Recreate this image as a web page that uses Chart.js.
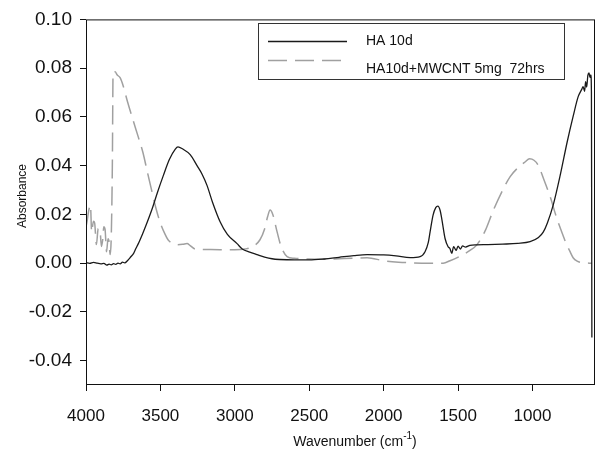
<!DOCTYPE html>
<html>
<head>
<meta charset="utf-8">
<script src="https://cdn.jsdelivr.net/npm/chart.js@4/dist/chart.umd.min.js"></script>
<style>
    body { margin: 0; background: #fff; }
    #wrap { width: 597px; height: 450px; }
</style>
</head>
<body>
<div id="wrap"><canvas id="chart" width="597" height="450"></canvas></div>
<script>
// 图例标签
const seriesLabels = ['HA 10d', 'HA10d+MWCNT 5mg  72hrs'];

// HA 10d（实线）
const haWave = [4000, 3975, 3950, 3925, 3900, 3880, 3860, 3845, 3830, 3815, 3800, 3785, 3770, 3755, 3740, 3720, 3700, 3680, 3665, 3650,
    3620, 3600, 3556, 3520, 3480, 3440, 3400, 3382, 3350, 3300, 3254, 3220, 3187, 3150, 3099, 3050, 2985, 2950, 2900, 2851,
    2800, 2750, 2700, 2600, 2500, 2400, 2300, 2200, 2111, 2000, 1917, 1822, 1755, 1722, 1700, 1688, 1668, 1650, 1636, 1620,
    1609, 1587, 1567, 1555, 1542, 1530, 1513, 1500, 1485, 1470, 1450, 1420, 1374, 1300, 1200, 1100, 1016, 960, 928, 900,
    861, 814, 767, 727, 693, 670, 660, 650, 643, 636, 628, 620, 614, 608, 604, 601];
const haAbs = [0.0002, -0.0001, 0.0003, 0.0000, -0.0003, -0.0001, -0.0008, -0.0004, -0.0007, -0.0002, -0.0005, 0.0000, -0.0003, 0.0004, 0.0001, 0.0011, 0.0025, 0.0040, 0.0060, 0.0078,
    0.0120, 0.0150, 0.0222, 0.0290, 0.0360, 0.0425, 0.0468, 0.0477, 0.0468, 0.0445, 0.0400, 0.0365, 0.0319, 0.0250, 0.0170, 0.0118, 0.0080, 0.0058, 0.0045, 0.0035,
    0.0025, 0.0018, 0.0015, 0.0013, 0.0013, 0.0017, 0.0024, 0.0031, 0.0035, 0.0034, 0.0030, 0.0023, 0.0027, 0.0047, 0.0085, 0.0128, 0.0197, 0.0228, 0.0234, 0.0215,
    0.0180, 0.0100, 0.0067, 0.0060, 0.0040, 0.0068, 0.0052, 0.0070, 0.0058, 0.0071, 0.0066, 0.0073, 0.0075, 0.0076, 0.0078, 0.0081, 0.0088, 0.0105, 0.0127, 0.0165,
    0.0238, 0.0360, 0.0497, 0.0602, 0.0683, 0.0712, 0.0724, 0.0705, 0.0745, 0.0722, 0.0770, 0.0780, 0.0762, 0.0772, 0.0700, -0.0305];

// HA10d+MWCNT（虚线）
const cntWave = [4000, 3993, 3982, 3970, 3962, 3950, 3942, 3930, 3918, 3906, 3896, 3888, 3880, 3872, 3862, 3852, 3845, 3838, 3830, 3823,
    3818, 3805, 3790, 3770, 3751, 3720, 3684, 3650, 3617, 3590, 3556, 3530, 3503, 3470, 3449, 3420, 3388, 3350, 3321, 3300,
    3267, 3200, 3100, 3000, 2930, 2880, 2831, 2800, 2780, 2763, 2745, 2716, 2690, 2649, 2600, 2500, 2400, 2300, 2200, 2111,
    2000, 1900, 1800, 1688, 1600, 1554, 1466, 1420, 1374, 1320, 1265, 1200, 1150, 1100, 1050, 1020, 990, 960, 928, 880,
    840, 814, 780, 750, 727, 700, 660, 620, 600];
const cntAbs = [0.0150, 0.0170, 0.0215, 0.0238, 0.0128, 0.0172, 0.0165, 0.0076, 0.0142, 0.0135, 0.0068, 0.0095, 0.0149, 0.0140, 0.0047, 0.0100, 0.0088, 0.0035, 0.0116, 0.0400,
    0.0785, 0.0785, 0.0772, 0.0760, 0.0729, 0.0660, 0.0587, 0.0520, 0.0453, 0.0380, 0.0291, 0.0225, 0.0169, 0.0120, 0.0096, 0.0082, 0.0075, 0.0077, 0.0081, 0.0072,
    0.0058, 0.0056, 0.0055, 0.0055, 0.0058, 0.0068, 0.0096, 0.0140, 0.0190, 0.0218, 0.0200, 0.0128, 0.0070, 0.0027, 0.0020, 0.0017, 0.0016, 0.0018, 0.0020, 0.0022,
    0.0010, 0.0004, 0.0001, 0.0000, 0.0000, 0.0010, 0.0035, 0.0052, 0.0075, 0.0130, 0.0214, 0.0300, 0.0355, 0.0390, 0.0415, 0.0428, 0.0422, 0.0400, 0.0350, 0.0270,
    0.0190, 0.0145, 0.0090, 0.0050, 0.0022, 0.0008, 0.0002, 0.0000, 0.0000];

// 坐标轴刻度
const xTicks = [4000, 3500, 3000, 2500, 2000, 1500, 1000];
const yTicks = [0.10, 0.08, 0.06, 0.04, 0.02, 0.00, -0.02, -0.04];
const xRange = [580, 4000];
const yRange = [-0.05, 0.10];

const FONT = "'Liberation Sans', Arial, sans-serif";

function toPoints(xs, ys) {
    return xs.map((x, i) => ({ x: x, y: ys[i] }));
}

// 画外框
const framePlugin = {
    id: 'frame',
    afterDraw(chart) {
        const a = chart.chartArea;
        const ctx = chart.ctx;
        ctx.save();
        ctx.strokeStyle = '#111';
        ctx.lineWidth = 1;
        ctx.strokeRect(a.left + 0.5, a.top + 0.5, a.right - a.left - 1, a.bottom - a.top - 1);
        ctx.restore();
    }
};

// 图例框
const legendPlugin = {
    id: 'boxLegend',
    afterDraw(chart) {
        const ctx = chart.ctx;
        ctx.save();
        ctx.strokeStyle = '#333';
        ctx.lineWidth = 1;
        ctx.strokeRect(258.5, 23.5, 306, 56);
        const rows = [41.5, 60.5];
        const textY = [41.5, 69];
        chart.data.datasets.forEach((ds, i) => {
            ctx.beginPath();
            ctx.strokeStyle = ds.borderColor;
            ctx.lineWidth = ds.borderWidth;
            ctx.setLineDash(ds.borderDash || []);
            ctx.moveTo(268, rows[i]);
            ctx.lineTo(347, rows[i]);
            ctx.stroke();
            ctx.setLineDash([]);
            ctx.fillStyle = '#111';
            ctx.font = '14px ' + FONT;
            ctx.textBaseline = 'middle';
            ctx.textAlign = 'left';
            ctx.fillText(ds.label, 366, textY[i]);
        });
        ctx.restore();
    }
};

// 坐标轴标题
const titlePlugin = {
    id: 'axisTitles',
    afterDraw(chart) {
        const ctx = chart.ctx;
        ctx.save();
        ctx.fillStyle = '#111';
        ctx.textBaseline = 'alphabetic';

        ctx.font = '12px ' + FONT;
        ctx.translate(26, 196);
        ctx.rotate(-Math.PI / 2);
        ctx.textAlign = 'center';
        ctx.fillText('Absorbance', 0, 0);
        ctx.setTransform(1, 0, 0, 1, 0, 0);

        const main = 'Wavenumber (cm';
        const sup = '-1';
        const tail = ')';
        ctx.font = '14px ' + FONT;
        const w1 = ctx.measureText(main).width;
        const w3 = ctx.measureText(tail).width;
        ctx.font = '10px ' + FONT;
        const w2 = ctx.measureText(sup).width;
        let x = 355 - (w1 + w2 + w3) / 2;
        const base = 446;
        ctx.textAlign = 'left';
        ctx.font = '14px ' + FONT;
        ctx.fillText(main, x, base);
        x += w1;
        ctx.font = '10px ' + FONT;
        ctx.fillText(sup, x, base - 7);
        x += w2;
        ctx.font = '14px ' + FONT;
        ctx.fillText(tail, x, base);
        ctx.restore();
    }
};

new Chart(document.getElementById('chart'), {
    type: 'line',
    data: {
        datasets: [{
            label: seriesLabels[0],
            data: toPoints(haWave, haAbs),
            borderColor: '#1a1a1a',
            borderWidth: 1.3,
            pointRadius: 0,
            cubicInterpolationMode: 'monotone',
            fill: false
        }, {
            label: seriesLabels[1],
            data: toPoints(cntWave, cntAbs),
            borderColor: '#a0a0a0',
            borderWidth: 1.5,
            borderDash: [19, 8],
            pointRadius: 0,
            cubicInterpolationMode: 'monotone',
            fill: false
        }]
    },
    options: {
        responsive: false,
        animation: false,
        events: [],
        layout: { padding: { left: 0, right: 2, top: 15, bottom: 0 } },
        plugins: {
            legend: { display: false },
            tooltip: { enabled: false }
        },
        scales: {
            x: {
                type: 'linear',
                reverse: true,
                min: xRange[0],
                max: xRange[1],
                afterFit(s) { s.height = 65; },
                afterBuildTicks(s) { s.ticks = xTicks.map(v => ({ value: v })); },
                border: { display: false },
                grid: { drawOnChartArea: false, drawTicks: true, tickLength: 6, tickColor: '#111' },
                ticks: {
                    padding: 15,
                    color: '#111',
                    font: { family: FONT, size: 17 },
                    maxRotation: 0,
                    callback: v => String(v)
                }
            },
            y: {
                type: 'linear',
                min: yRange[0],
                max: yRange[1],
                afterFit(s) { s.width = 86; },
                afterBuildTicks(s) { s.ticks = yTicks.map(v => ({ value: v })); },
                border: { display: false },
                grid: { drawOnChartArea: false, drawTicks: true, tickLength: 6, tickColor: '#111' },
                ticks: {
                    padding: 8,
                    color: '#111',
                    font: { family: FONT, size: 19 },
                    callback: v => v.toFixed(2)
                }
            }
        }
    },
    plugins: [framePlugin, legendPlugin, titlePlugin]
});
</script>
</body>
</html>
